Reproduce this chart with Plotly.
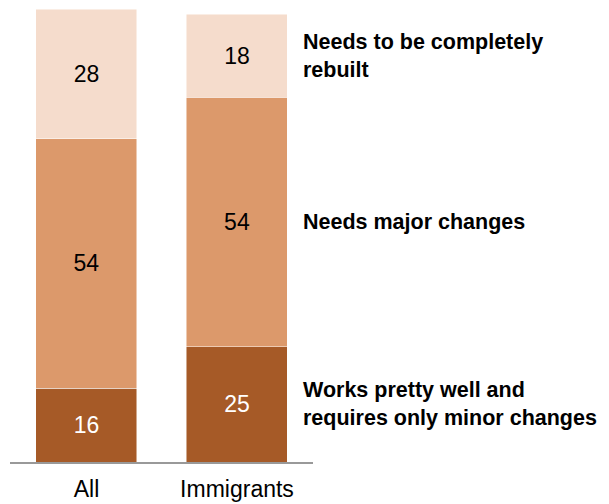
import plotly.graph_objects as go

categories = ["All", "Immigrants"]
works_well = [16, 25]
major_changes = [54, 54]
rebuilt = [28, 18]
series_names = ["Works pretty well and<br>requires only minor changes",
                "Needs major changes",
                "Needs to be completely<br>rebuilt"]

colors = ["#A65A27", "#DC996B", "#F5DCCC"]
text_colors = ["white", "black", "black"]
series = [works_well, major_changes, rebuilt]

fig = go.Figure()
for vals, col, tcol, name in zip(series, colors, text_colors, series_names):
    fig.add_trace(go.Bar(
        x=categories, y=vals, name=name,
        marker=dict(color=col, line=dict(color="rgba(255,255,255,0.6)", width=0.8)),
        text=[str(v) for v in vals], textposition="inside", insidetextanchor="middle",
        textfont=dict(color=tcol, size=23, family="Liberation Sans"),
        width=0.671, hoverinfo="skip",
    ))

# right-side labels aligned to Immigrants segments
base = 0
for vals, name in zip(series, series_names):
    mid = base + vals[1] / 2
    base += vals[1]
    fig.add_annotation(x=1 + 0.671 / 2, y=mid, xref="x", yref="y", text="<b>" + name + "</b>",
                       showarrow=False, xanchor="left", yanchor="middle", align="left", xshift=14,
                       font=dict(size=21.5, color="black", family="Liberation Sans"))

fig.update_layout(
    barmode="stack", width=609, height=504,
    margin=dict(l=2, r=304, t=0, b=50),
    paper_bgcolor="white", plot_bgcolor="white", showlegend=False,
    uniformtext=dict(mode=False),
    xaxis=dict(range=[-0.508, 1.505], showline=True, linecolor="#999999", linewidth=2,
               showgrid=False, zeroline=False, ticks="", ticklabelstandoff=5,
               tickfont=dict(size=23, color="black", family="Liberation Sans")),
    yaxis=dict(range=[0, 98.3], visible=False, showgrid=False, zeroline=False),
)
fig.write_html("out.html")
